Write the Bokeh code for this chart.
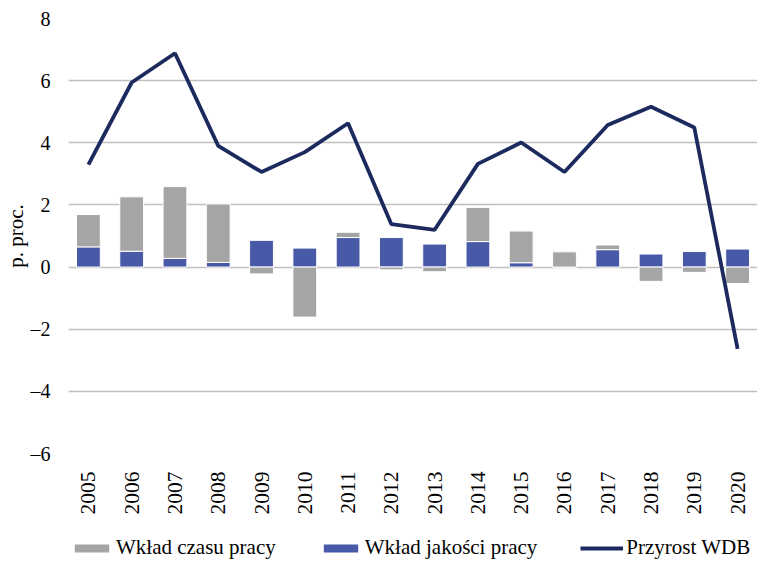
import math
from bokeh.plotting import figure
from bokeh.layouts import column
from bokeh.models import (ColumnDataSource, FactorRange, FixedTicker, Legend, LegendItem, Range1d)
from bokeh.embed import file_html
from bokeh.resources import INLINE

years = [str(y) for y in range(2005, 2021)]
czas_pracy = [1.04, 1.75, 2.31, 1.88, -0.22, -1.61, 0.17, -0.09, -0.15, 1.10, 1.02, 0.49, 0.15, -0.46, -0.17, -0.53]
jakosc_pracy = [0.65, 0.51, 0.28, 0.15, 0.86, 0.61, 0.95, 0.95, 0.74, 0.82, 0.14, 0.0, 0.56, 0.42, 0.50, 0.58]
przyrost_wdb = [3.30, 5.94, 6.88, 3.90, 3.06, 3.70, 4.63, 1.38, 1.20, 3.32, 4.01, 3.06, 4.57, 5.16, 4.49, -2.63]
y_ticks = [-6, -4, -2, 0, 2, 4, 6, 8]
legend_labels = ["Wkład czasu pracy", "Wkład jakości pracy", "Przyrost WDB"]

GRAY = "#a5a5a5"
BLUE = "#4759a7"
NAVY = "#1d2a5e"
FONT = "Liberation Serif"

gray_bottom = [j if c >= 0 else 0 for c, j in zip(czas_pracy, jakosc_pracy)]
gray_top = [b + c for b, c in zip(gray_bottom, czas_pracy)]

src = ColumnDataSource(dict(
    x=years, blue=jakosc_pracy, zero=[0] * len(years),
    gb=gray_bottom, gt=gray_top, line=przyrost_wdb))

p = figure(width=757, height=517,
           x_range=FactorRange(*years, range_padding=-0.04, range_padding_units="absolute"),
           y_range=Range1d(-6, 8), output_backend="svg", toolbar_location=None,
           min_border_left=67, min_border_right=0, min_border_top=18, min_border_bottom=60)
p.outline_line_color = None

p.vbar(x="x", bottom="zero", top="blue", width=0.55, source=src,
       fill_color=BLUE, line_color="white", line_width=1)
p.vbar(x="x", bottom="gb", top="gt", width=0.55, source=src,
       fill_color=GRAY, line_color="white", line_width=1)
p.line(x="x", y="line", source=src, line_color=NAVY, line_width=3.8)

p.xgrid.grid_line_color = None
p.ygrid.grid_line_color = "#c0c0c0"
p.ygrid.grid_line_width = 1.5
p.ygrid.ticker = FixedTicker(ticks=y_ticks)

p.yaxis.ticker = FixedTicker(ticks=y_ticks)
p.yaxis.major_label_overrides = {t: (("\u2013" + str(-t)) if t < 0 else str(t)) for t in y_ticks}
p.yaxis.axis_line_color = None
p.yaxis.major_tick_line_color = None
p.yaxis.minor_tick_line_color = None
p.yaxis.major_label_standoff = 12
p.yaxis.major_label_text_font = FONT
p.yaxis.major_label_text_font_size = "20px"
p.yaxis.major_label_text_color = "black"
p.yaxis.axis_label = "p. proc."
p.yaxis.axis_label_text_font = FONT
p.yaxis.axis_label_text_font_style = "normal"
p.yaxis.axis_label_text_font_size = "21px"
p.yaxis.axis_label_standoff = 0
p.yaxis.axis_label_text_color = "black"

p.xaxis.axis_line_color = None
p.xaxis.major_tick_line_color = None
p.xaxis.minor_tick_line_color = None
p.xaxis.major_label_orientation = math.pi / 2
p.xaxis.major_label_standoff = 12
p.xaxis.major_label_text_font = FONT
p.xaxis.major_label_text_font_size = "21.5px"
p.xaxis.major_label_text_color = "black"

# legend strip (its renderers sit outside the visible range; only legend glyphs show)
q = figure(width=757, height=46, x_range=Range1d(0, 1), y_range=Range1d(0, 1),
           output_backend="svg", toolbar_location=None, min_border=0)
q.axis.visible = False
q.grid.grid_line_color = None
q.outline_line_color = None
lg_gray = q.vbar(x=[5], top=[1], width=0.1, fill_color=GRAY, line_color=None)
lg_blue = q.vbar(x=[5], top=[1], width=0.1, fill_color=BLUE, line_color=None)
lg_line = q.line(x=[5, 6], y=[1, 1], line_color=NAVY, line_width=3.8)

legend = Legend(items=[
    LegendItem(label=legend_labels[0], renderers=[lg_gray]),
    LegendItem(label=legend_labels[1], renderers=[lg_blue]),
    LegendItem(label=legend_labels[2], renderers=[lg_line]),
], orientation="horizontal", location=(2, 3))
legend.border_line_color = None
legend.background_fill_alpha = 0
legend.padding = 0
legend.margin = 0
legend.spacing = 43
legend.label_standoff = 3
legend.glyph_width = 43
legend.glyph_height = 10
legend.label_text_font = FONT
legend.label_text_font_size = "21px"
legend.label_text_color = "black"
q.add_layout(legend, "center")

layout = column(p, q, spacing=0)
open("out.html", "w").write(file_html(layout, INLINE))
